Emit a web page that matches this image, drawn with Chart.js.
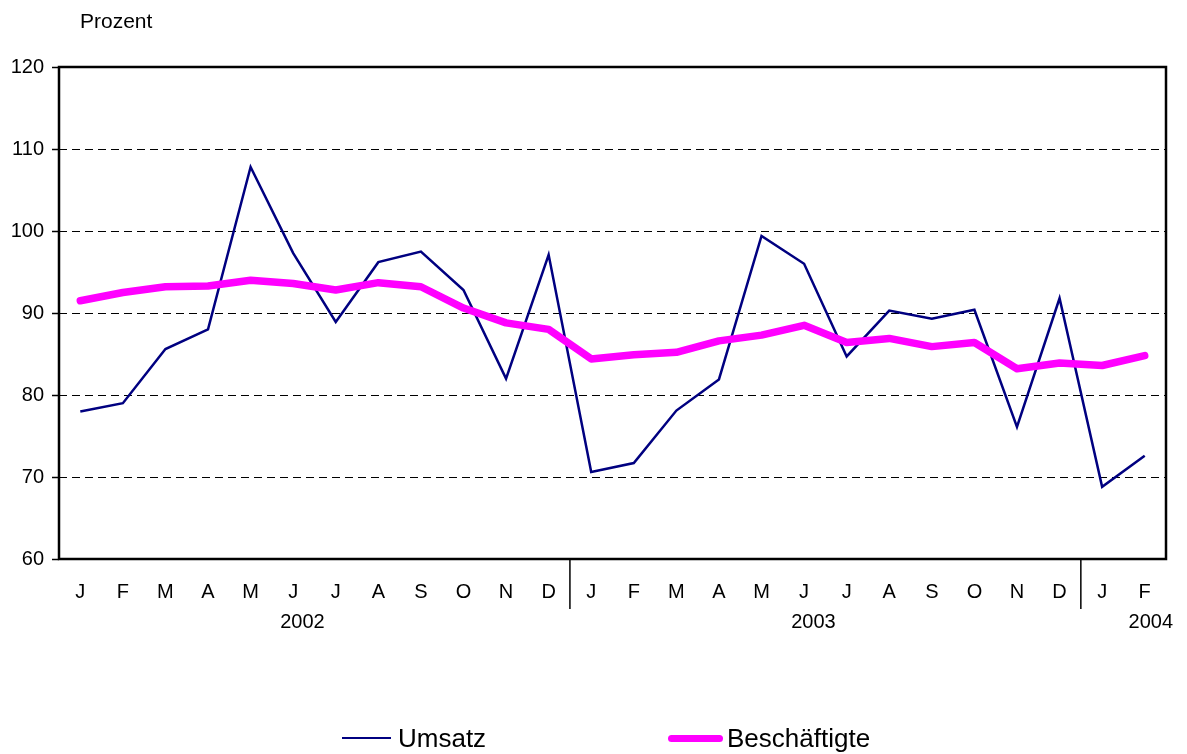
<!DOCTYPE html>
<html>
<head>
<meta charset="utf-8">
<script src="https://cdn.jsdelivr.net/npm/chart.js"></script>
<style>
    body { margin: 0; background: #fff; font-family: "Liberation Sans", Arial, sans-serif; }
    #wrap { position: relative; width: 1187px; height: 754px; }
    #prozent { position: absolute; left: 80px; top: 9px; font-size: 21px; color: #000; }
    .leg { position: absolute; top: 723px; height: 30px; font-size: 26px; line-height: 30px; color: #000; display: flex; align-items: center; }
    .leg .ln { display: inline-block; }
</style>
</head>
<body>
<div id="wrap">
    <canvas id="chart1" width="1187" height="754"></canvas>
    <div id="prozent">Prozent</div>
    <div class="leg" style="left:342px"><span class="ln" style="width:49px;height:2.5px;background:#000080;margin-right:7px"></span>Umsatz</div>
    <div class="leg" style="left:668px"><span class="ln" style="width:55px;height:7px;border-radius:4px;background:#ff00ff;margin-right:4px"></span>Beschäftigte</div>
</div>
<script>
const months = ['J','F','M','A','M','J','J','A','S','O','N','D',
                'J','F','M','A','M','J','J','A','S','O','N','D',
                'J','F'];
const years = ['2002', '2003', '2004'];
const yearStarts = [0, 12, 24];

const umsatz = [78.0, 79.0, 85.6, 88.0, 107.8, 97.3, 88.9, 96.2, 97.5, 92.8, 82.0, 97.1,
                70.6, 71.7, 78.1, 81.9, 99.4, 96.0, 84.7, 90.3, 89.3, 90.4, 76.1, 91.8,
                68.8, 72.6];
const beschaeftigte = [91.5, 92.5, 93.2, 93.3, 94.0, 93.6, 92.8, 93.7, 93.2, 90.6, 88.8, 88.0,
                       84.4, 84.9, 85.2, 86.6, 87.3, 88.5, 86.4, 86.9, 85.9, 86.4, 83.2, 83.9,
                       83.6, 84.8];

const yMin = 60;
const yMax = 120;
const yStep = 10;

const fontFam = '"Liberation Sans", Arial, sans-serif';

// frame round the plot, year dividers and year labels
const frame = {
    id: 'frame',
    beforeDatasetsDraw(chart) {
        const { ctx, chartArea: a } = chart;
        ctx.save();
        ctx.strokeStyle = '#000';
        ctx.lineWidth = 2.5;
        ctx.strokeRect(a.left, a.top, a.right - a.left, a.bottom - a.top);
        ctx.restore();
    },
    afterDraw(chart) {
        const { ctx, chartArea: a, scales: { x } } = chart;
        ctx.save();
        ctx.strokeStyle = '#000';
        ctx.lineWidth = 1.5;
        ctx.fillStyle = '#000';
        ctx.font = '20px ' + fontFam;
        ctx.textBaseline = 'middle';
        ctx.textAlign = 'center';
        yearStarts.forEach((s, i) => {
            const e = (i < yearStarts.length - 1 ? yearStarts[i + 1] : months.length) - 1;
            if (s > 0) {
                const px = (x.getPixelForValue(s - 1) + x.getPixelForValue(s)) / 2;
                ctx.beginPath();
                ctx.moveTo(px, a.bottom);
                ctx.lineTo(px, a.bottom + 50);
                ctx.stroke();
            }
            let cx = (x.getPixelForValue(s) + x.getPixelForValue(e)) / 2 - 12;
            const w = ctx.measureText(years[i]).width;
            if (e - s < 3) cx = Math.max(cx, chart.width - 14 - w / 2);
            ctx.fillText(years[i], cx, a.bottom + 63);
        });
        ctx.restore();
    }
};

const c = document.getElementById('chart1');
new Chart(c, {
    type: 'line',
    data: {
        labels: months,
        datasets: [{
            label: 'Umsatz',
            data: umsatz,
            borderColor: '#000080',
            backgroundColor: '#000080',
            borderWidth: 2.5,
            pointRadius: 0,
            tension: 0,
            fill: false,
            order: 1
        },
        {
            label: 'Beschäftigte',
            data: beschaeftigte,
            borderColor: '#ff00ff',
            backgroundColor: '#ff00ff',
            borderWidth: 7.5,
            borderCapStyle: 'round',
            borderJoinStyle: 'round',
            pointRadius: 0,
            tension: 0,
            fill: false,
            order: 0
        }]
    },
    options: {
        responsive: false,
        animation: false,
        layout: {
            padding: { top: 67, right: 21, left: 0, bottom: 0 }
        },
        scales: {
            x: {
                type: 'category',
                offset: true,
                grid: { display: false, drawTicks: false },
                border: { display: false },
                ticks: {
                    color: '#000',
                    font: { size: 20, family: fontFam },
                    padding: 21,
                    maxRotation: 0,
                    autoSkip: false
                },
                afterFit(s) { s.height = 195; }
            },
            y: {
                min: yMin,
                max: yMax,
                grid: {
                    color: '#000',
                    lineWidth: 1,
                    tickLength: 7,
                    tickColor: '#000',
                    tickWidth: 1.5
                },
                border: { display: false, dash: [8, 5] },
                ticks: {
                    stepSize: yStep,
                    color: '#000',
                    font: { size: 20, family: fontFam },
                    padding: 8
                },
                afterFit(s) { s.width = 59; }
            }
        },
        plugins: {
            legend: { display: false },
            tooltip: { enabled: false },
            title: { display: false }
        }
    },
    plugins: [frame]
});
</script>
</body>
</html>
